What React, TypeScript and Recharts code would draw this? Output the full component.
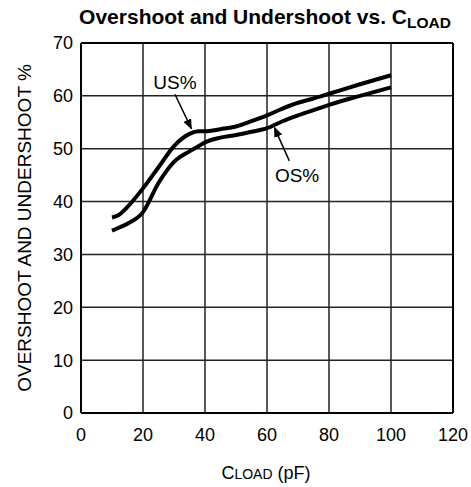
import React from "react";
import {
  LineChart,
  Line,
  XAxis,
  YAxis,
  CartesianGrid,
  ReferenceLine,
  ReferenceDot,
  Label,
} from "recharts";

// capacitance load (pF)
const cLoad = [10, 12, 15, 20, 25, 30, 35, 38, 40, 45, 50, 55, 60, 65, 70, 75, 80, 90, 100];
const undershoot = [37, 37.4, 39, 42.5, 46.5, 50.5, 52.8, 53.3, 53.3, 53.7, 54.2, 55.2, 56.3, 57.6, 58.7, 59.5, 60.4, 62.2, 63.9];
const overshoot = [34.5, 35, 35.8, 38, 43.5, 47.5, 49.5, 50.5, 51.2, 52.1, 52.6, 53.2, 53.9, 55.2, 56.3, 57.3, 58.3, 60, 61.6];

const xTicks = [0, 20, 40, 60, 80, 100, 120];
const yTicks = [0, 10, 20, 30, 40, 50, 60, 70];

const data = cLoad.map((c, i) => ({ c, us: undershoot[i], os: overshoot[i] }));

const font = "'Liberation Sans', Arial, sans-serif";

export default function App() {
  return (
    <div style={{ position: "absolute", left: 0, top: 0, width: 471, height: 487, background: "#fff", fontFamily: font }}>
      <div style={{ position: "absolute", left: 0, width: 471, top: 5, paddingLeft: 59, boxSizing: "border-box", textAlign: "center", fontWeight: "bold", fontSize: 21, whiteSpace: "nowrap" }}>
        Overshoot and Undershoot vs. C<span style={{ fontSize: 15.5, position: "relative", top: 4 }}>LOAD</span>
      </div>
      <LineChart width={471} height={487} data={data} margin={{ top: 43, right: 18, bottom: 0, left: 0 }}>
        <defs>
          <marker id="arrow" viewBox="0 0 10 8" refX="9" refY="4" markerWidth="7" markerHeight="5.6" orient="auto" markerUnits="strokeWidth">
            <path d="M0,0 L10,4 L0,8 z" fill="#000" />
          </marker>
        </defs>
        <CartesianGrid stroke="#222" strokeWidth={1.5} />
        <XAxis
          dataKey="c"
          type="number"
          domain={[0, 120]}
          ticks={xTicks}
          height={74}
          tickLine={false}
          axisLine={{ stroke: "#000", strokeWidth: 2 }}
          tickMargin={9}
          tick={{ fill: "#000", fontSize: 18, fontFamily: font }}
        />
        <YAxis
          type="number"
          domain={[0, 70]}
          ticks={yTicks}
          width={81}
          tickLine={false}
          axisLine={{ stroke: "#000", strokeWidth: 2 }}
          tick={{ fill: "#000", fontSize: 18, fontFamily: font }}
        >
          <Label
            value="OVERSHOOT AND UNDERSHOOT %"
            angle={-90}
            position="insideLeft"
            offset={24}
            style={{ fill: "#000", fontSize: 19, fontFamily: font, textAnchor: "middle" }}
          />
        </YAxis>
        <ReferenceLine x={120} stroke="#000" strokeWidth={2} />
        <ReferenceLine y={70} stroke="#000" strokeWidth={2} />
        <Line type="monotone" dataKey="us" stroke="#000" strokeWidth={4} dot={false} isAnimationActive={false} />
        <Line type="monotone" dataKey="os" stroke="#000" strokeWidth={4} dot={false} isAnimationActive={false} />
        <ReferenceLine segment={[{ x: 30.3, y: 60.3 }, { x: 35.6, y: 53.8 }]} stroke="#000" strokeWidth={1.5} markerEnd="url(#arrow)" />
        <ReferenceLine segment={[{ x: 67.2, y: 47.7 }, { x: 62.4, y: 54 }]} stroke="#000" strokeWidth={1.5} markerEnd="url(#arrow)" />
        <ReferenceDot x={30.3} y={62.5} r={0} fill="none" stroke="none">
          <Label value="US%" position="center" style={{ fill: "#000", fontSize: 19, fontFamily: font }} />
        </ReferenceDot>
        <ReferenceDot x={69.7} y={44.9} r={0} fill="none" stroke="none">
          <Label value="OS%" position="center" style={{ fill: "#000", fontSize: 19, fontFamily: font }} />
        </ReferenceDot>
      </LineChart>
      <div style={{ position: "absolute", left: 0, width: 471, paddingLeft: 61, boxSizing: "border-box", top: 463, textAlign: "center", fontSize: 18, whiteSpace: "nowrap" }}>
        C<span style={{ fontSize: 14 }}>LOAD</span> (pF)
      </div>
    </div>
  );
}
